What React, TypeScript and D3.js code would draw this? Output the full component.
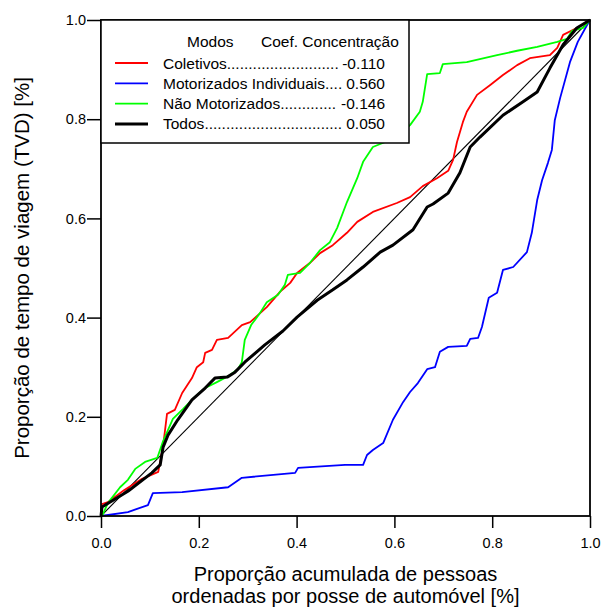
import React, { useEffect, useRef } from "react";
import * as d3 from "d3";

// curves, [x, y]
const coletivos: [number, number][] = [
  [0, 0], [0.002, 0.024], [0.014, 0.028], [0.047, 0.052], [0.084, 0.075], [0.117, 0.089],
  [0.127, 0.141], [0.135, 0.206], [0.151, 0.214], [0.166, 0.248], [0.186, 0.278], [0.196, 0.3],
  [0.209, 0.31], [0.213, 0.329], [0.227, 0.335], [0.237, 0.355], [0.26, 0.359], [0.288, 0.385],
  [0.305, 0.391], [0.321, 0.405], [0.339, 0.421], [0.366, 0.452], [0.387, 0.47], [0.401, 0.49],
  [0.427, 0.51], [0.448, 0.53], [0.474, 0.546], [0.503, 0.571], [0.524, 0.593], [0.556, 0.613],
  [0.605, 0.631], [0.632, 0.643], [0.658, 0.665], [0.687, 0.681], [0.71, 0.696], [0.72, 0.718],
  [0.728, 0.754], [0.74, 0.794], [0.748, 0.815], [0.769, 0.849], [0.796, 0.869], [0.822, 0.889],
  [0.851, 0.909], [0.877, 0.923], [0.918, 0.929], [0.933, 0.944], [0.945, 0.97], [0.973, 0.984],
  [1, 1],
];

const motorizados: [number, number][] = [
  [0, 0], [0.055, 0.008], [0.096, 0.022], [0.106, 0.046], [0.166, 0.048], [0.26, 0.058],
  [0.288, 0.077], [0.397, 0.087], [0.403, 0.097], [0.499, 0.103], [0.536, 0.103], [0.544, 0.123],
  [0.556, 0.133], [0.577, 0.147], [0.597, 0.194], [0.618, 0.23], [0.632, 0.25], [0.648, 0.268],
  [0.667, 0.296], [0.683, 0.3], [0.693, 0.331], [0.71, 0.341], [0.748, 0.343], [0.755, 0.357],
  [0.771, 0.359], [0.779, 0.381], [0.793, 0.44], [0.81, 0.45], [0.822, 0.496], [0.843, 0.502],
  [0.871, 0.532], [0.881, 0.571], [0.892, 0.637], [0.902, 0.677], [0.914, 0.712], [0.922, 0.738],
  [0.928, 0.798], [0.939, 0.843], [0.959, 0.915], [0.975, 0.956], [0.994, 0.99], [1, 1],
];

const naoMotorizados: [number, number][] = [
  [0, 0], [0.004, 0.004], [0.014, 0.026], [0.039, 0.058], [0.055, 0.073], [0.07, 0.095],
  [0.09, 0.109], [0.115, 0.117], [0.127, 0.151], [0.147, 0.196], [0.168, 0.216], [0.192, 0.24],
  [0.213, 0.258], [0.237, 0.27], [0.26, 0.282], [0.28, 0.296], [0.288, 0.31], [0.294, 0.355],
  [0.307, 0.385], [0.325, 0.409], [0.339, 0.431], [0.362, 0.446], [0.376, 0.466], [0.382, 0.486],
  [0.407, 0.49], [0.427, 0.51], [0.448, 0.536], [0.468, 0.552], [0.483, 0.581], [0.503, 0.633],
  [0.524, 0.681], [0.536, 0.714], [0.556, 0.744], [0.571, 0.75], [0.601, 0.762], [0.632, 0.788],
  [0.652, 0.815], [0.658, 0.835], [0.667, 0.891], [0.693, 0.893], [0.699, 0.911], [0.748, 0.915],
  [0.81, 0.929], [0.851, 0.938], [0.892, 0.946], [0.933, 0.956], [0.953, 0.962], [0.963, 0.978],
  [0.986, 0.984], [1, 1],
];

const todos: [number, number][] = [
  [0, 0], [0.002, 0.018], [0.055, 0.05], [0.104, 0.087], [0.121, 0.103], [0.127, 0.139],
  [0.137, 0.163], [0.157, 0.194], [0.186, 0.234], [0.213, 0.258], [0.233, 0.278], [0.258, 0.28],
  [0.274, 0.29], [0.294, 0.31], [0.335, 0.345], [0.372, 0.373], [0.401, 0.401], [0.442, 0.435],
  [0.474, 0.456], [0.503, 0.476], [0.536, 0.502], [0.571, 0.532], [0.597, 0.546], [0.638, 0.577],
  [0.667, 0.623], [0.679, 0.629], [0.71, 0.651], [0.734, 0.692], [0.755, 0.744], [0.775, 0.764],
  [0.822, 0.808], [0.863, 0.835], [0.892, 0.855], [0.918, 0.903], [0.945, 0.95], [0.973, 0.984],
  [1, 1],
];

const modos = ["Coletivos", "Motorizados Individuais", "Não Motorizados", "Todos"];
const coeficientes = ["-0.110", "0.560", "-0.146", "0.050"];
const cores = ["#ff0000", "#0000ff", "#00ff00", "#000000"];
const ticks = [0, 0.2, 0.4, 0.6, 0.8, 1.0];

const App = () => {
  const svgRef = useRef<SVGSVGElement>(null);

  useEffect(() => {
    const width = 603, height = 609;
    const left = 101, right = 590, top = 20, bottom = 516;
    const font = "'Liberation Sans', Arial, sans-serif";
    const fs = 15.5;

    const x = d3.scaleLinear().domain([0, 1]).range([left, right]);
    const y = d3.scaleLinear().domain([0, 1]).range([bottom, top]);

    const svg = d3.select(svgRef.current)
      .attr("width", width)
      .attr("height", height)
      .style("background", "#fff")
      .style("font-family", font);
    svg.selectAll("*").remove();

    const line = d3.line<[number, number]>().x(d => x(d[0])).y(d => y(d[1]));

    // diagonal
    svg.append("line")
      .attr("x1", x(0)).attr("y1", y(0))
      .attr("x2", x(1)).attr("y2", y(1))
      .attr("stroke", "#000").attr("stroke-width", 1.1);

    const series = [coletivos, motorizados, naoMotorizados, todos];
    series.forEach((s, i) => {
      svg.append("path")
        .datum(s)
        .attr("d", line)
        .attr("fill", "none")
        .attr("stroke", cores[i])
        .attr("stroke-width", i === 3 ? 3 : 1.8)
        .attr("stroke-linejoin", "round");
    });

    // axes
    const xAxis = svg.append("g")
      .attr("transform", `translate(0, ${bottom})`)
      .call(d3.axisBottom(x).tickValues(ticks).tickSize(12).tickPadding(10).tickFormat(d3.format(".1f")));
    const yAxis = svg.append("g")
      .attr("transform", `translate(${left}, 0)`)
      .call(d3.axisLeft(y).tickValues(ticks).tickSize(14).tickPadding(1).tickFormat(d3.format(".1f")));
    [xAxis, yAxis].forEach(g => {
      g.select(".domain").remove();
      g.selectAll("line").attr("stroke", "#000").attr("stroke-width", 1.5);
      g.selectAll("text").attr("font-family", font).attr("font-size", 14.5).attr("fill", "#000");
    });

    // frame
    svg.append("rect")
      .attr("x", left).attr("y", top)
      .attr("width", right - left).attr("height", bottom - top)
      .attr("fill", "none").attr("stroke", "#000").attr("stroke-width", 1.8);

    // legend
    const lg = svg.append("g");
    lg.append("rect")
      .attr("x", left).attr("y", top)
      .attr("width", 308).attr("height", 123)
      .attr("fill", "#fff").attr("stroke", "#000").attr("stroke-width", 1.5);
    lg.append("text").attr("x", 187).attr("y", 47).attr("font-size", fs).text("Modos");
    lg.append("text").attr("x", 261).attr("y", 47).attr("font-size", fs).text("Coef. Concentração");

    modos.forEach((m, i) => {
      const ry = 63 + i * 20.3;
      lg.append("line")
        .attr("x1", 115).attr("x2", 148).attr("y1", ry).attr("y2", ry)
        .attr("stroke", cores[i]).attr("stroke-width", i === 3 ? 3 : 1.8);
      const label = lg.append("text").attr("x", 163).attr("y", ry + 5.5).attr("font-size", fs).text(m);
      const val = lg.append("text").attr("x", 385).attr("y", ry + 5.5).attr("font-size", fs)
        .attr("text-anchor", "end").text(coeficientes[i]);
      const start = 163 + (label.node() as SVGTextElement).getComputedTextLength();
      const end = 385 - (val.node() as SVGTextElement).getComputedTextLength() - 3;
      const dots = lg.append("text").attr("x", start).attr("y", ry + 5.5).attr("font-size", fs).text(".");
      const dw = (dots.node() as SVGTextElement).getComputedTextLength();
      const n = Math.max(0, Math.floor((end - start) / dw));
      dots.text(".".repeat(n));
    });

    // titles
    svg.append("text")
      .attr("x", (left + right) / 2).attr("y", 581)
      .attr("text-anchor", "middle").attr("font-size", 20)
      .text("Proporção acumulada de pessoas");
    svg.append("text")
      .attr("x", (left + right) / 2).attr("y", 603)
      .attr("text-anchor", "middle").attr("font-size", 20)
      .text("ordenadas por posse de automóvel [%]");
    svg.append("text")
      .attr("transform", "rotate(-90)")
      .attr("x", -(top + bottom) / 2).attr("y", 29)
      .attr("text-anchor", "middle").attr("font-size", 20.5)
      .text("Proporção de tempo de viagem (TVD) [%]");
  }, []);

  return <svg ref={svgRef} style={{ position: "absolute", left: 0, top: 0 }}></svg>;
};

export default App;
